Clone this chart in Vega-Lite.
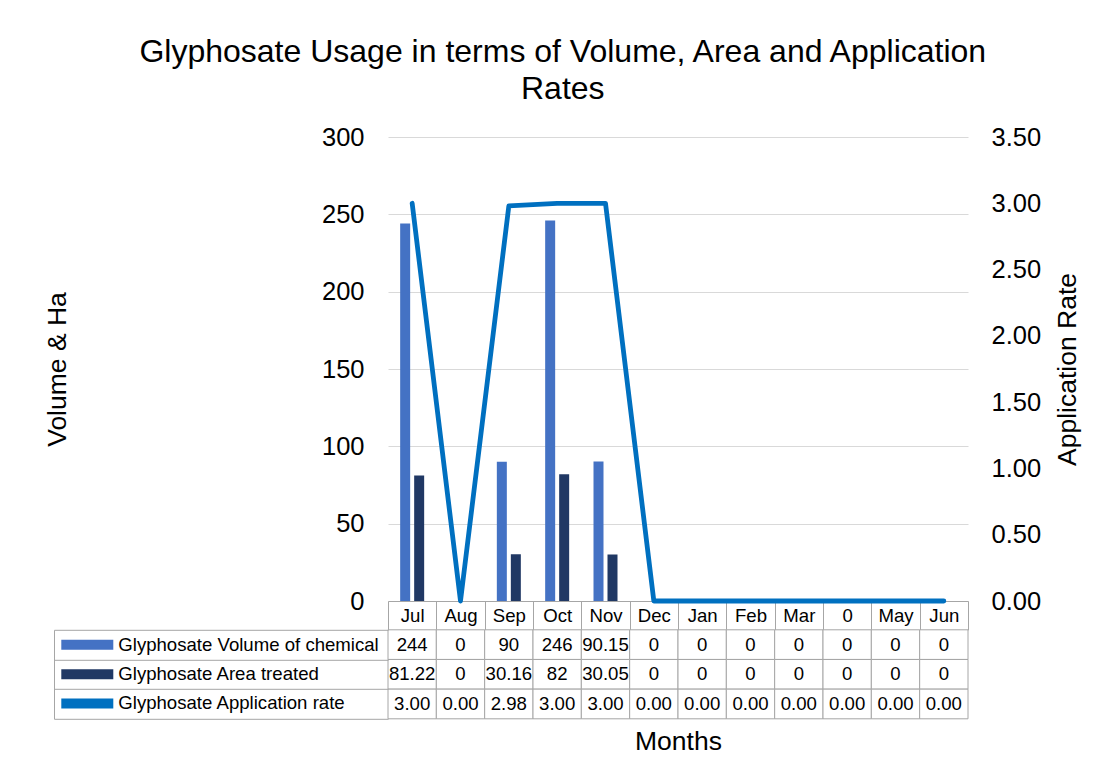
{
  "$schema": "https://vega.github.io/schema/vega-lite/v6.json",
  "padding": {"left": 44, "top": 35, "right": 5, "bottom": 5},
  "background": "#FFFFFF",
  "title": {
    "text": ["Glyphosate Usage in terms of Volume, Area and Application", "Rates"],
    "fontSize": 32,
    "lineHeight": 37,
    "font": "Liberation Sans",
    "fontWeight": "normal",
    "color": "#000000",
    "anchor": "middle",
    "offset": 19.5
  },
  "datasets": {
    "rows": [
      {"month": "Jul", "series": "Glyphosate Volume of chemical", "value": 244},
      {"month": "Jul", "series": "Glyphosate Area treated", "value": 81.22},
      {"month": "Jul", "series": "Glyphosate Application rate", "value": 3.0},
      {"month": "Aug", "series": "Glyphosate Volume of chemical", "value": 0},
      {"month": "Aug", "series": "Glyphosate Area treated", "value": 0},
      {"month": "Aug", "series": "Glyphosate Application rate", "value": 0},
      {"month": "Sep", "series": "Glyphosate Volume of chemical", "value": 90},
      {"month": "Sep", "series": "Glyphosate Area treated", "value": 30.16},
      {"month": "Sep", "series": "Glyphosate Application rate", "value": 2.98},
      {"month": "Oct", "series": "Glyphosate Volume of chemical", "value": 246},
      {"month": "Oct", "series": "Glyphosate Area treated", "value": 82},
      {"month": "Oct", "series": "Glyphosate Application rate", "value": 3.0},
      {"month": "Nov", "series": "Glyphosate Volume of chemical", "value": 90.15},
      {"month": "Nov", "series": "Glyphosate Area treated", "value": 30.05},
      {"month": "Nov", "series": "Glyphosate Application rate", "value": 3.0},
      {"month": "Dec", "series": "Glyphosate Volume of chemical", "value": 0},
      {"month": "Dec", "series": "Glyphosate Area treated", "value": 0},
      {"month": "Dec", "series": "Glyphosate Application rate", "value": 0},
      {"month": "Jan", "series": "Glyphosate Volume of chemical", "value": 0},
      {"month": "Jan", "series": "Glyphosate Area treated", "value": 0},
      {"month": "Jan", "series": "Glyphosate Application rate", "value": 0},
      {"month": "Feb", "series": "Glyphosate Volume of chemical", "value": 0},
      {"month": "Feb", "series": "Glyphosate Area treated", "value": 0},
      {"month": "Feb", "series": "Glyphosate Application rate", "value": 0},
      {"month": "Mar", "series": "Glyphosate Volume of chemical", "value": 0},
      {"month": "Mar", "series": "Glyphosate Area treated", "value": 0},
      {"month": "Mar", "series": "Glyphosate Application rate", "value": 0},
      {"month": "0", "series": "Glyphosate Volume of chemical", "value": 0},
      {"month": "0", "series": "Glyphosate Area treated", "value": 0},
      {"month": "0", "series": "Glyphosate Application rate", "value": 0},
      {"month": "May", "series": "Glyphosate Volume of chemical", "value": 0},
      {"month": "May", "series": "Glyphosate Area treated", "value": 0},
      {"month": "May", "series": "Glyphosate Application rate", "value": 0},
      {"month": "Jun", "series": "Glyphosate Volume of chemical", "value": 0},
      {"month": "Jun", "series": "Glyphosate Area treated", "value": 0},
      {"month": "Jun", "series": "Glyphosate Application rate", "value": 0}
    ]
  },
  "data": {"name": "rows"},
  "bounds": "flush",
  "spacing": 28.8,
  "resolve": {"scale": {"color": "independent"}},
  "vconcat": [
    {
      "width": 580,
      "height": 464,
      "layer": [
        {
          "transform": [{"filter": "datum.series !== 'Glyphosate Application rate'"}],
          "mark": {"type": "bar"},
          "encoding": {
            "x": {
              "field": "month", "type": "nominal",
              "sort": ["Jul", "Aug", "Sep", "Oct", "Nov", "Dec", "Jan", "Feb", "Mar", "0", "May", "Jun"],
              "scale": {"paddingInner": 0, "paddingOuter": 0},
              "axis": {
                "orient": "bottom", "title": null, "labelAngle": 0,
                "tickBand": "extent", "tickSize": 28.8, "tickColor": "#A6A6A6", "tickWidth": 1,
                "domain": true, "domainColor": "#A6A6A6", "domainWidth": 1,
                "labelFontSize": 18.6, "labelFont": "Liberation Sans", "labelColor": "#000000",
                "labelBaseline": "middle", "labelPadding": -14.4
              }
            },
            "xOffset": {
              "field": "series", "type": "nominal",
              "sort": ["Glyphosate Volume of chemical", "Glyphosate Area treated"],
              "scale": {"paddingInner": 0.2857, "paddingOuter": 0.869}
            },
            "y": {
              "field": "value", "type": "quantitative",
              "scale": {"domain": [0, 300]},
              "axis": {
                "orient": "left", "values": [0, 50, 100, 150, 200, 250, 300],
                "grid": true, "gridColor": "#D9D9D9", "gridWidth": 1,
                "domain": false, "ticks": false,
                "labelFontSize": 25.5, "labelFont": "Liberation Sans", "labelColor": "#000000", "labelPadding": 24,
                "title": "Volume & Ha", "titleFontSize": 26.5, "titleFont": "Liberation Sans",
                "titleFontWeight": "normal", "titleColor": "#000000", "titlePadding": 250
              }
            },
            "color": {
              "field": "series", "type": "nominal",
              "scale": {
                "domain": ["Glyphosate Volume of chemical", "Glyphosate Area treated", "Glyphosate Application rate"],
                "range": ["#4472C4", "#203864", "#0070C0"]
              },
              "legend": null
            }
          }
        },
        {
          "transform": [{"filter": "datum.series === 'Glyphosate Application rate'"}],
          "mark": {"type": "line", "color": "#0070C0", "strokeWidth": 4.8, "strokeCap": "round", "strokeJoin": "round"},
          "encoding": {
            "x": {
              "field": "month", "type": "nominal",
              "sort": ["Jul", "Aug", "Sep", "Oct", "Nov", "Dec", "Jan", "Feb", "Mar", "0", "May", "Jun"]
            },
            "y": {
              "field": "value", "type": "quantitative",
              "scale": {"domain": [0, 3.5]},
              "axis": {
                "orient": "right", "values": [0, 0.5, 1, 1.5, 2, 2.5, 3, 3.5], "format": ".2f",
                "grid": false, "domain": false, "ticks": false,
                "labelFontSize": 25.5, "labelFont": "Liberation Sans", "labelColor": "#000000", "labelPadding": 23,
                "title": "Application Rate", "titleFontSize": 26.5, "titleFont": "Liberation Sans",
                "titleFontWeight": "normal", "titleColor": "#000000", "titleAngle": 270, "titleBaseline": "top",
                "titlePadding": 14
              }
            }
          }
        }
      ],
      "resolve": {"scale": {"y": "independent"}}
    },
    {
      "width": 580,
      "height": 89,
      "encoding": {
        "x": {
          "field": "month", "type": "nominal",
          "sort": ["Jul", "Aug", "Sep", "Oct", "Nov", "Dec", "Jan", "Feb", "Mar", "0", "May", "Jun"],
          "scale": {"paddingInner": 0, "paddingOuter": 0},
          "axis": {
            "orient": "bottom", "labels": false, "ticks": false, "domain": false,
            "title": "Months", "titleFontSize": 26.5, "titleFont": "Liberation Sans",
            "titleFontWeight": "normal", "titleColor": "#000000", "titlePadding": 10
          }
        },
        "y": {
          "field": "series", "type": "nominal",
          "sort": ["Glyphosate Volume of chemical", "Glyphosate Area treated", "Glyphosate Application rate"],
          "scale": {"paddingInner": 0, "paddingOuter": 0},
          "axis": {
            "orient": "left", "offset": 334, "title": null, "labels": false,
            "domain": true, "domainColor": "#A6A6A6", "domainWidth": 1,
            "ticks": true, "tickBand": "extent", "tickSize": -334, "tickColor": "#A6A6A6", "tickWidth": 1
          }
        }
      },
      "layer": [
        {
          "mark": {"type": "rect", "fill": "#FFFFFF", "stroke": "#A6A6A6", "strokeWidth": 1}
        },
        {
          "transform": [{"filter": "datum.series !== 'Glyphosate Application rate'"}],
          "mark": {"type": "text", "fontSize": 18.6, "font": "Liberation Sans", "color": "#000000"},
          "encoding": {"text": {"field": "value", "type": "nominal"}}
        },
        {
          "transform": [{"filter": "datum.series === 'Glyphosate Application rate'"}],
          "mark": {"type": "text", "fontSize": 18.6, "font": "Liberation Sans", "color": "#000000"},
          "encoding": {"text": {"field": "value", "type": "quantitative", "format": ".2f"}}
        },
        {
          "mark": {"type": "point", "size": 0, "opacity": 1, "filled": true},
          "encoding": {
            "color": {
              "field": "series", "type": "nominal",
              "scale": {
                "domain": ["Glyphosate Volume of chemical", "Glyphosate Area treated", "Glyphosate Application rate"],
                "range": ["#4472C4", "#203864", "#0070C0"]
              },
              "legend": {
                "orient": "none", "legendX": -313.7, "legendY": 2, "title": null, "padding": 0,
                "symbolType": "M-2,-0.385H2V0.385H-2Z", "symbolSize": 676, "symbolStrokeWidth": 0,
                "labelFontSize": 18.6, "labelFont": "Liberation Sans", "labelColor": "#000000",
                "labelLimit": 500, "labelOffset": 18, "rowPadding": 6.34,
                "encode": {
                  "symbols": {
                    "update": {
                      "shape": {"signal": "datum.value === 'Glyphosate Application rate' ? 'M-2.2,-0.25H2.2V0.25H-2.2Z' : 'M-2,-0.385H2V0.385H-2Z'"},
                      "size": {"value": 676},
                      "opacity": {"value": 1}
                    }
                  }
                }
              }
            }
          }
        }
      ]
    }
  ],
  "config": {
    "view": {"stroke": null},
    "font": "Liberation Sans"
  }
}
